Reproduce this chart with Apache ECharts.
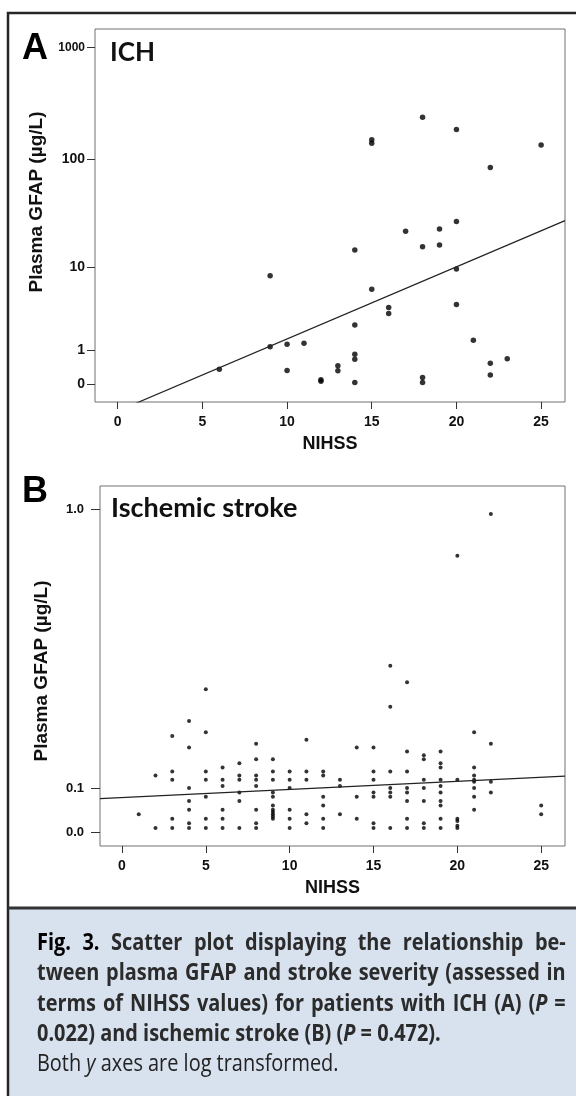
<!DOCTYPE html>
<html lang="en">
<head>
<meta charset="UTF-8">
<title>Plasma GFAP vs NIHSS</title>
<style>
    html, body { margin: 0; padding: 0; background: #fff; }
    #main { width: 576px; height: 1096px; }
    #caption {
        position: absolute; left: 37px; top: 926px; width: 637px;
        transform: scaleX(0.83); transform-origin: 0 0;
        font-family: "Open Sans", sans-serif; font-size: 24px; line-height: 30.3px;
        color: #2b2b2b; white-space: nowrap;
    }
    #caption .j { font-weight: 700; text-align: justify; text-align-last: justify; }
    #caption .l { font-weight: 700; }
    #caption .n { font-weight: 400; color: #222; }
    #caption b { font-weight: 700; color: #000; }
</style>
</head>
<body>
<div id="main"></div>
<div id="caption">
    <div class="j"><b>Fig. 3.</b> Scatter plot displaying the relationship be-</div>
    <div class="j">tween plasma GFAP and stroke severity (assessed in</div>
    <div class="j">terms of NIHSS values) for patients with ICH (A) (<i>P</i> =</div>
    <div class="l">0.022) and ischemic stroke (B) (<i>P</i> = 0.472).</div>
    <div class="n">Both <i>y</i> axes are log transformed.</div>
</div>
<script src="https://cdn.jsdelivr.net/npm/echarts@6/dist/echarts.min.js"></script>
<script>
    // 面板A：脑出血 (ICH)，每个点 NIHSS + GFAP(µg/L)
    var ichNihss = [15, 15, 18, 20, 25, 22, 20, 17, 19, 18, 19, 14, 9, 20, 15, 16, 16, 20, 14,
        21, 9, 10, 11, 14, 14, 23, 22, 22, 6, 10, 13, 13, 12, 12, 14, 18, 18];
    var ichGfap = [149, 139, 238, 184, 134, 84, 27, 22, 23, 15.7, 16.3, 14.6, 8.2, 9.6, 6.0, 3.8, 3.25, 4.1, 2.36,
        1.45, 1.14, 1.26, 1.31, 0.84, 0.66, 0.68, 0.53, 0.2, 0.35, 0.32, 0.45, 0.31, 0.09, 0.056, 0.028, 0.14, 0.028];

    // 面板B：缺血性卒中，按 NIHSS 分列
    var ischNihss = [1, 2, 3, 4, 5, 6, 7, 8, 9, 10, 11, 12, 13, 14, 15, 16, 17, 18, 19, 20, 21, 22, 25];
    var ischGfap = [
        [0.04],
        [0.13, 0.01],
        [0.23, 0.14, 0.12, 0.03, 0.01],
        [0.27, 0.20, 0.10, 0.07, 0.05, 0.02, 0.01],
        [0.36, 0.24, 0.14, 0.12, 0.08, 0.03, 0.01],
        [0.15, 0.12, 0.105, 0.05, 0.03, 0.01],
        [0.16, 0.13, 0.12, 0.09, 0.07, 0.01],
        [0.21, 0.17, 0.13, 0.12, 0.105, 0.05, 0.02, 0.01],
        [0.17, 0.14, 0.12, 0.09, 0.08, 0.06, 0.05, 0.045, 0.04, 0.035, 0.03],
        [0.14, 0.12, 0.10, 0.05, 0.03, 0.01],
        [0.22, 0.14, 0.12, 0.04, 0.02],
        [0.14, 0.13, 0.08, 0.06, 0.03, 0.01],
        [0.12, 0.105, 0.04],
        [0.20, 0.08, 0.03],
        [0.20, 0.14, 0.12, 0.09, 0.08, 0.02, 0.01],
        [0.43, 0.31, 0.14, 0.10, 0.09, 0.08, 0.01],
        [0.38, 0.19, 0.14, 0.10, 0.09, 0.07, 0.03, 0.01],
        [0.18, 0.17, 0.12, 0.10, 0.07, 0.02, 0.01],
        [0.19, 0.16, 0.15, 0.12, 0.105, 0.09, 0.07, 0.06, 0.03, 0.01],
        [0.81, 0.12, 0.03, 0.025, 0.015, 0.01],
        [0.24, 0.15, 0.13, 0.12, 0.115, 0.10, 0.08, 0.05],
        [0.98, 0.21, 0.115, 0.09],
        [0.06, 0.04]
    ];

    // 刻度
    var xTicks = [0, 5, 10, 15, 20, 25];
    var ichTicks = [0, 1, 10, 100, 1000];
    var ischTicks = [0, 0.1, 1.0];

    // 回归线 [截距, 斜率]，在 log10(GFAP+1) 空间
    var ichFit = [-0.2416, 0.06426];
    var ischFit = [0.0326, 0.000754];

    // y轴为 log10(x+1) 变换
    function tf(v) { return Math.log10(v + 1); }
    function nearestTick(ticks, val) {
        var best = ticks[0];
        ticks.forEach(function (t) { if (Math.abs(tf(t) - val) < Math.abs(tf(best) - val)) best = t; });
        return best;
    }
    function fitLine(fit, x0, x1) {
        return [[x0, fit[0] + fit[1] * x0], [x1, fit[0] + fit[1] * x1]];
    }

    var ichPoints = ichNihss.map(function (n, i) { return [n, tf(ichGfap[i])]; });
    var ischPoints = [];
    ischNihss.forEach(function (n, i) {
        ischGfap[i].forEach(function (v) { ischPoints.push([n, tf(v)]); });
    });

    var axisFont = 'Liberation Sans, Arial, sans-serif';
    var xA = [-1.34, 26.41], xB = [-1.31, 26.42];

    function xAxisCfg(idx, range) {
        return {
            type: 'value', gridIndex: idx, min: range[0], max: range[1],
            name: 'NIHSS', nameLocation: 'middle', nameGap: 33,
            nameTextStyle: { fontFamily: axisFont, fontWeight: 'bold', fontSize: 18, color: '#111' },
            axisLine: { show: false, onZero: false },
            axisTick: { show: true, length: 7, customValues: xTicks, lineStyle: { color: '#333' } },
            axisLabel: { customValues: xTicks, margin: 13, fontFamily: axisFont, fontWeight: 'bold', fontSize: 14, color: '#111' },
            splitLine: { show: false }
        };
    }

    var myChart = echarts.init(document.getElementById('main'));
    var option = {
        animation: false,
        grid: [
            { left: 95, top: 29, width: 470, height: 373, show: true, borderColor: '#707070', borderWidth: 1, backgroundColor: '#fff' },
            { left: 100, top: 486, width: 465, height: 360, show: true, borderColor: '#707070', borderWidth: 1, backgroundColor: '#fff' }
        ],
        xAxis: [xAxisCfg(0, xA), xAxisCfg(1, xB)],
        yAxis: [{
            type: 'value', gridIndex: 0, min: -0.161, max: 3.164,
            axisLine: { show: false, onZero: false },
            axisTick: { show: true, length: 8, customValues: ichTicks.map(tf), lineStyle: { color: '#333' } },
            axisLabel: {
                customValues: ichTicks.map(tf), margin: 10,
                fontFamily: axisFont, fontWeight: 'bold', fontSize: 14, color: '#111',
                formatter: function (val) {
                    var t = nearestTick(ichTicks, val);
                    return t === 1000 ? '{s|1000}' : String(t);
                },
                rich: { s: { fontFamily: axisFont, fontSize: 12, color: '#111' } }
            },
            splitLine: { show: false }
        }, {
            type: 'value', gridIndex: 1, min: -0.0125, max: 0.3227,
            axisLine: { show: false, onZero: false },
            axisTick: { show: true, length: 9, customValues: ischTicks.map(tf), lineStyle: { color: '#333' } },
            axisLabel: {
                customValues: ischTicks.map(tf), margin: 16,
                fontFamily: axisFont, fontWeight: 'bold', fontSize: 13, color: '#111',
                formatter: function (val) { return nearestTick(ischTicks, val).toFixed(1); }
            },
            splitLine: { show: false }
        }],
        series: [{
            type: 'scatter', xAxisIndex: 0, yAxisIndex: 0, data: ichPoints,
            symbolSize: 5.5, itemStyle: { color: '#000' }
        }, {
            type: 'line', xAxisIndex: 0, yAxisIndex: 0, data: fitLine(ichFit, xA[0], xA[1]),
            symbol: 'none', clip: true, lineStyle: { color: '#222', width: 1.2 }
        }, {
            type: 'scatter', xAxisIndex: 1, yAxisIndex: 1, data: ischPoints,
            symbolSize: 4, itemStyle: { color: '#000' }
        }, {
            type: 'line', xAxisIndex: 1, yAxisIndex: 1, data: fitLine(ischFit, xB[0], xB[1]),
            symbol: 'none', clip: true, lineStyle: { color: '#222', width: 1.2 }
        }],
        graphic: [
            { type: 'rect', z: -10, shape: { x: 9, y: 908, width: 600, height: 200 }, style: { fill: '#d8e2ef' } },
            { type: 'rect', z: 100, shape: { x: 8, y: 13, width: 620, height: 1120 }, style: { fill: 'none', stroke: '#262626', lineWidth: 2.5 } },
            { type: 'line', z: 100, shape: { x1: 8, y1: 908, x2: 576, y2: 908 }, style: { stroke: '#333', lineWidth: 3 } },
            { type: 'text', x: 22, y: 31, style: { text: 'A', font: 'bold 36px Liberation Sans, Arial, sans-serif', fill: '#000' } },
            { type: 'text', x: 22, y: 474, style: { text: 'B', font: 'bold 36px Liberation Sans, Arial, sans-serif', fill: '#000' } },
            { type: 'text', x: 110, y: 40, style: { text: 'ICH', font: 'bold 26px Lato, sans-serif', fill: '#111' } },
            { type: 'text', x: 111, y: 495, style: { text: 'Ischemic stroke', font: 'bold 27px Lato, sans-serif', fill: '#111' } },
            { type: 'text', x: 37, y: 202, rotation: Math.PI / 2,
              style: { text: 'Plasma GFAP (µg/L)', font: 'bold 19px Liberation Sans, Arial, sans-serif', fill: '#111', align: 'center', verticalAlign: 'middle' } },
            { type: 'text', x: 42, y: 671, rotation: Math.PI / 2,
              style: { text: 'Plasma GFAP (µg/L)', font: 'bold 19px Liberation Sans, Arial, sans-serif', fill: '#111', align: 'center', verticalAlign: 'middle' } }
        ]
    };
    myChart.setOption(option);
</script>
</body>
</html>
